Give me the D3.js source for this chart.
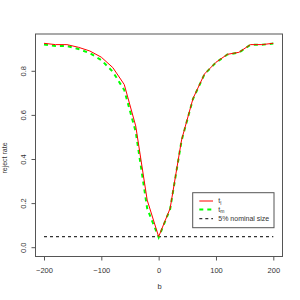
<!DOCTYPE html>
<html>
<head>
<meta charset="utf-8">
<script src="https://cdn.jsdelivr.net/npm/d3@7"></script>
<style>
  body { margin: 0; background: #fff; }
  svg { font-family: "Liberation Sans", Arial, sans-serif; }
</style>
</head>
<body>
<svg width="300" height="300"></svg>
<script>
// b values and reject rates
var bVals = [-200,-180,-160,-140,-120,-100,-80,-60,-40,-20,0,20,40,60,80,100,120,140,160,180,200];
var tl = [0.927,0.921,0.921,0.909,0.892,0.864,0.817,0.740,0.552,0.216,0.050,0.178,0.489,0.677,0.788,0.841,0.877,0.886,0.921,0.921,0.927];
var tm = [0.922,0.915,0.915,0.901,0.882,0.851,0.798,0.715,0.526,0.178,0.047,0.175,0.486,0.675,0.787,0.840,0.876,0.885,0.920,0.920,0.926];
var nominal = 0.05;
var xTicks = [-200,-100,0,100,200];
var yTicks = [0.0,0.2,0.4,0.6,0.8];

var svg = d3.select("svg");
var box = {left: 35.5, right: 282.5, top: 34, bottom: 256.5};

var x = d3.scaleLinear().domain([-200, 200]).range([44, 273.3]);
var y = d3.scaleLinear().domain([0, 0.8]).range([247.7, 71.3]);

svg.append("rect")
    .attr("x", box.left).attr("y", box.top)
    .attr("width", box.right - box.left).attr("height", box.bottom - box.top)
    .attr("fill", "none").attr("stroke", "#555").attr("stroke-width", 1);

var xAxis = svg.append("g")
    .attr("transform", "translate(0," + box.bottom + ")")
    .call(d3.axisBottom(x).tickValues(xTicks).tickSize(4).tickPadding(7)
        .tickFormat(function (d) { return d < 0 ? "\u2212" + (-d) : d; }));
xAxis.select(".domain").remove();
xAxis.selectAll("line").attr("stroke", "#555");
xAxis.selectAll("text").attr("font-size", 7.5).attr("fill", "#333")
    .attr("font-family", "Liberation Sans, Arial, sans-serif");

var yAxis = svg.append("g")
    .attr("transform", "translate(" + box.left + ",0)")
    .call(d3.axisLeft(y).tickValues(yTicks).tickSize(4).tickPadding(3)
        .tickFormat(d3.format(".1f")));
yAxis.select(".domain").remove();
yAxis.selectAll("line").attr("stroke", "#555");
yAxis.selectAll("text").attr("font-size", 7.5).attr("fill", "#333")
    .attr("font-family", "Liberation Sans, Arial, sans-serif")
    .attr("text-anchor", "middle")
    .attr("transform", function (d) { return "rotate(-90," + (-12) + "," + y(d) + ")"; })
    .attr("x", -12).attr("dy", "0.32em")
    .attr("y", function (d) { return y(d); });
yAxis.selectAll(".tick").attr("transform", null);
yAxis.selectAll(".tick line").attr("y1", function (d) { return y(d); }).attr("y2", function (d) { return y(d); });

svg.append("text").attr("x", (box.left + box.right) / 2 + 0.5).attr("y", 289)
    .attr("text-anchor", "middle").attr("font-size", 7.5).attr("fill", "#333").text("b");
svg.append("text").attr("transform", "translate(7,158) rotate(-90)")
    .attr("text-anchor", "middle").attr("font-size", 7).attr("fill", "#333").text("reject rate");

var line = d3.line().x(function (d) { return x(d[0]); }).y(function (d) { return y(d[1]); });

svg.append("path").datum(bVals.map(function (b) { return [b, nominal]; }))
    .attr("d", line).attr("fill", "none").attr("stroke", "#333")
    .attr("stroke-width", 1.2).attr("stroke-dasharray", "3,3");

svg.append("path").datum(bVals.map(function (b, i) { return [b, tm[i]]; }))
    .attr("d", line).attr("fill", "none").attr("stroke", "#00ff00")
    .attr("stroke-width", 2).attr("stroke-dasharray", "4,4");

svg.append("path").datum(bVals.map(function (b, i) { return [b, tl[i]]; }))
    .attr("d", line).attr("fill", "none").attr("stroke", "#ff0000")
    .attr("stroke-width", 1);

// legend
var lg = svg.append("g");
lg.append("rect").attr("x", 192.7).attr("y", 192.7).attr("width", 81.3).attr("height", 35)
    .attr("fill", "#fff").attr("stroke", "#555").attr("stroke-width", 1);
var legendItems = [
    {t: "t", sub: "l", color: "#ff0000", w: 1, dash: null, yy: 201},
    {t: "t", sub: "m", color: "#00ff00", w: 2, dash: "4,4", yy: 209.5},
    {t: "5% nominal size", sub: null, color: "#333", w: 1.2, dash: "3,3", yy: 218.7}
];
legendItems.forEach(function (it) {
    lg.append("line").attr("x1", 199.3).attr("x2", 213).attr("y1", it.yy).attr("y2", it.yy)
        .attr("stroke", it.color).attr("stroke-width", it.w)
        .attr("stroke-dasharray", it.dash);
    var tx = lg.append("text").attr("x", 218.3).attr("y", it.yy).attr("dy", "0.32em")
        .attr("font-size", 7).attr("fill", "#333").text(it.t);
    if (it.sub) {
        tx.append("tspan").attr("font-size", 5).attr("dy", "0.3em").text(it.sub);
    }
});
</script>
</body>
</html>
